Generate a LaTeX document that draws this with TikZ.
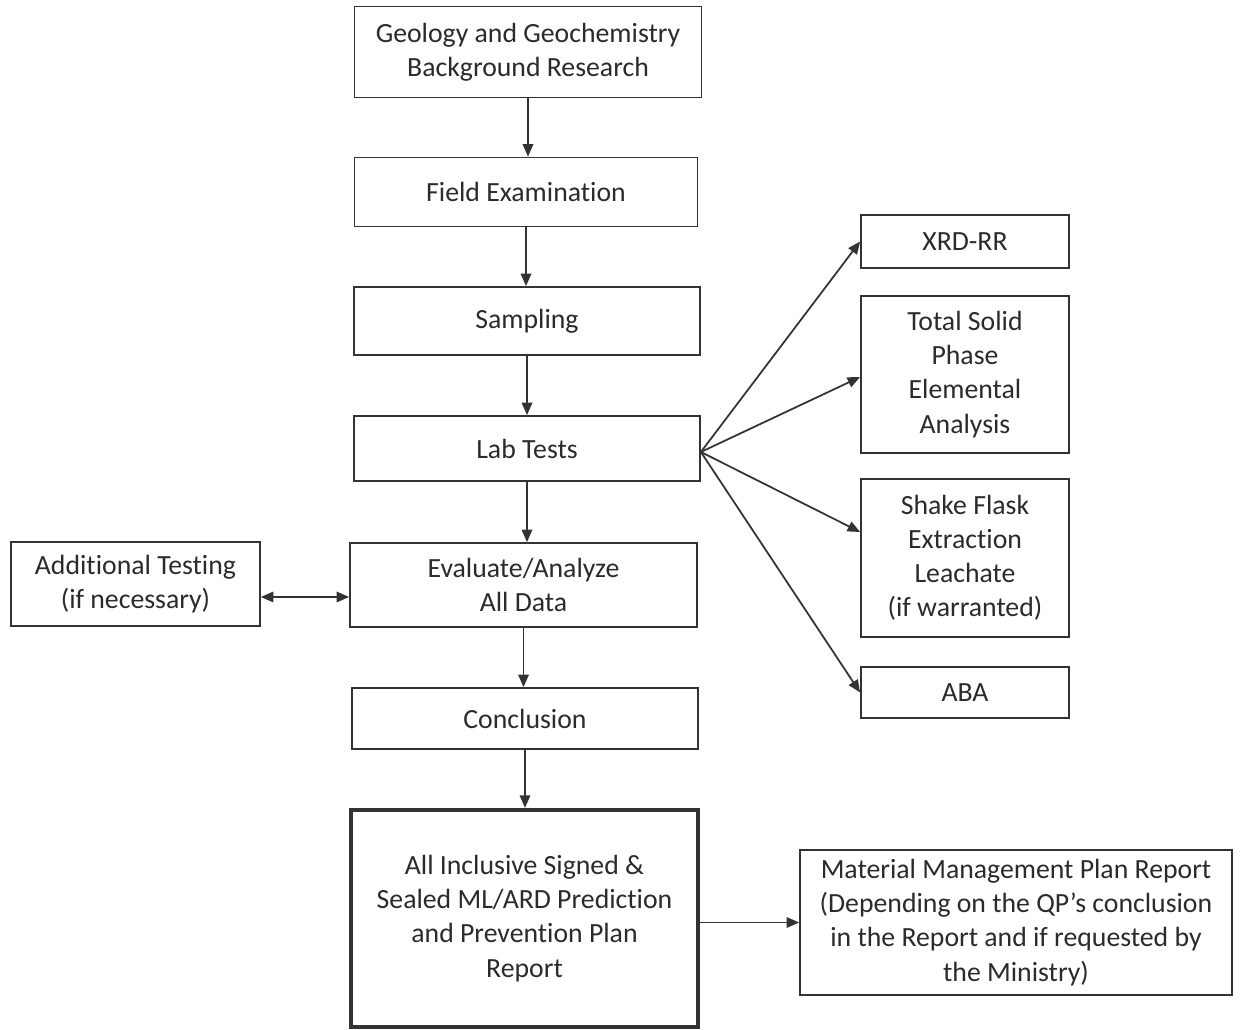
\documentclass[tikz,border=0pt]{standalone}
\usepackage{fontspec}
\setmainfont{Carlito}[Ligatures=NoCommon]
\usetikzlibrary{arrows.meta,positioning}
\definecolor{ln}{HTML}{333333}
\definecolor{tx}{HTML}{2B2B2B}
\begin{document}
\begin{tikzpicture}[x=0.02cm,y=-0.02cm,
  box/.style={draw=ln, line width=1pt, rectangle, align=center, inner sep=0pt,
    text=tx, font=\fontsize{15.8}{19.4}\selectfont},
  thickbox/.style={box, line width=2.4pt},
  arr/.style={draw=ln, line width=1pt, -{Triangle[length=0.25cm,width=0.21cm]}},
  darr/.style={draw=ln, line width=1pt, {Triangle[length=0.25cm,width=0.21cm]}-{Triangle[length=0.25cm,width=0.21cm]}}]
\useasboundingbox[fill=white] (0,0) rectangle (1241,1030);
\node[box, minimum width=347*0.02cm, minimum height=91*0.02cm] (geo) at (528,52) {Geology and Geochemistry\\Background Research};
\node[box, minimum width=343*0.02cm, minimum height=69*0.02cm] (field) at (526,192) {Field Examination};
\node[box, minimum width=346*0.02cm, minimum height=68*0.02cm] (samp) at (527,321) {Sampling};
\node[box, minimum width=346*0.02cm, minimum height=65*0.02cm] (lab) at (527,448.5) {Lab Tests};
\node[box, minimum width=347*0.02cm, minimum height=84*0.02cm] (eval) at (523.5,585) {Evaluate/Analyze\\All Data};
\node[box, minimum width=249*0.02cm, minimum height=84*0.02cm] (add) at (135.5,584) {Additional Testing\\(if necessary)};
\node[box, minimum width=346*0.02cm, minimum height=61*0.02cm] (conc) at (525,718.5) {Conclusion};
\node[thickbox, minimum width=347*0.02cm, minimum height=217*0.02cm] (final) at (524.5,918.5) {All Inclusive Signed \&\\Sealed ML/ARD Prediction\\and Prevention Plan\\Report};
\node[box, minimum width=432*0.02cm, minimum height=145*0.02cm] (mat) at (1016,922.5) {Material Management Plan Report\\(Depending on the QP’s conclusion\\in the Report and if requested by\\the Ministry)};
\node[box, minimum width=208*0.02cm, minimum height=53*0.02cm] (xrd) at (965,241.5) {XRD-RR};
\node[box, minimum width=208*0.02cm, minimum height=157*0.02cm] (tot) at (965,374.5) {Total Solid\\Phase\\Elemental\\Analysis};
\node[box, minimum width=208*0.02cm, minimum height=158*0.02cm] (shake) at (965,558) {Shake Flask\\Extraction\\Leachate\\(if warranted)};
\node[box, minimum width=208*0.02cm, minimum height=51*0.02cm] (aba) at (965,692.5) {ABA};

\draw[arr] (geo.south) -- (geo.south |- field.north);
\draw[arr] (field.south) -- (field.south |- samp.north);
\draw[arr] (samp.south) -- (samp.south |- lab.north);
\draw[arr] (lab.south) -- (lab.south |- eval.north);
\draw[arr] (eval.south) -- (eval.south |- conc.north);
\draw[arr] (conc.south) -- (conc.south |- final.north);
\draw[darr] ([yshift=-0.26cm]add.east) -- ([yshift=-0.26cm]add.east -| eval.west);
\draw[arr] (final.east |- mat.west) -- (mat.west);
\coordinate (fan) at ([yshift=-0.07cm]lab.east);
\draw[arr] (fan) -- (xrd.west);
\draw[arr] (fan) -- ([yshift=-0.05cm]tot.west);
\draw[arr] (fan) -- ([yshift=0.52cm]shake.west);
\draw[arr] (fan) -- (aba.west);
\end{tikzpicture}
\end{document}
